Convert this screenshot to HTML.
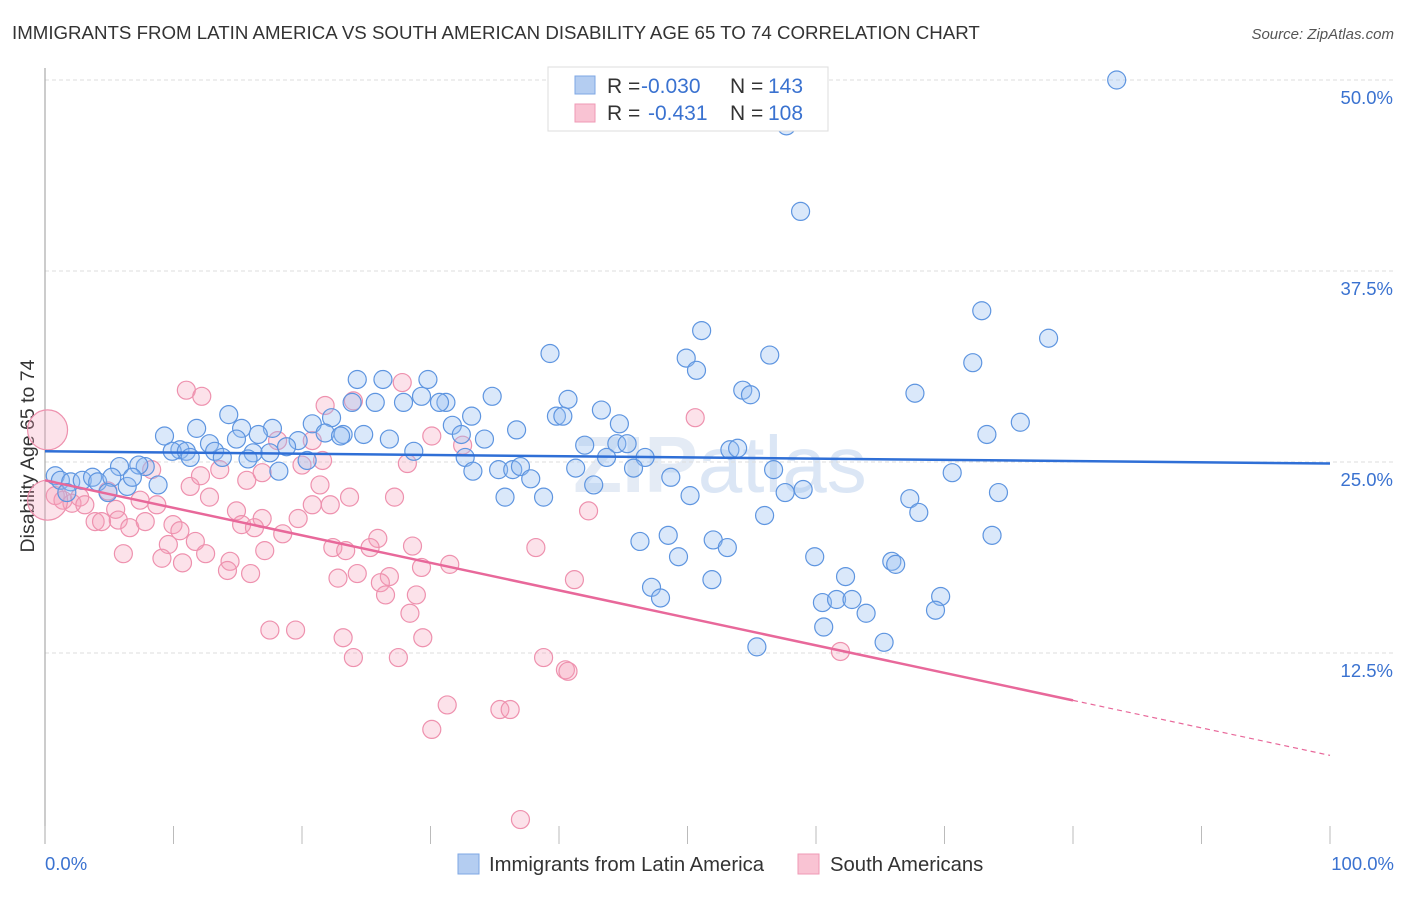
<!DOCTYPE html>
<html><head><meta charset="utf-8"><style>
body{margin:0;background:#fff;font-family:"Liberation Sans",sans-serif;}
svg text{font-family:"Liberation Sans",sans-serif;}
</style></head><body>
<svg id="chart" width="1406" height="892" xmlns="http://www.w3.org/2000/svg">
<text x="12" y="39" font-size="18.7" fill="#333">IMMIGRANTS FROM LATIN AMERICA VS SOUTH AMERICAN DISABILITY AGE 65 TO 74 CORRELATION CHART</text>
<text x="1394" y="39" font-size="15" fill="#555" text-anchor="end" font-style="italic">Source: ZipAtlas.com</text>
<text x="720" y="492" font-size="80" fill="#e4ebf5" text-anchor="middle" font-weight="bold">ZIP<tspan fill="#dbe6f5" font-weight="normal">atlas</tspan></text>
<g id="grid"></g>
<line x1="45" y1="68" x2="45" y2="844" stroke="#aaa" stroke-width="1.2"/>
<text transform="translate(34,456) rotate(-90)" font-size="19.5" fill="#333" text-anchor="middle">Disability Age 65 to 74</text>
<g id="ticks"></g>
<g id="pink"></g>
<g id="blue"></g>
<g id="trends"></g>
<text x="45" y="870" font-size="18.5" fill="#3a72d0">0.0%</text>
<text x="1394" y="870" font-size="18.5" fill="#3a72d0" text-anchor="end">100.0%</text>
<g>
<rect x="548" y="67" width="280" height="64" fill="#fff" stroke="#ddd"/>
<rect x="575" y="76" width="20" height="18" fill="#b4cdf1" stroke="#7ea7e4"/>
<rect x="575" y="104" width="20" height="18" fill="#f9c3d3" stroke="#ef9ab4"/>
<text x="607" y="93" font-size="21" fill="#333">R = <tspan fill="#3a72d0" x="641">-0.030</tspan><tspan x="730">N = </tspan><tspan fill="#3a72d0" x="768">143</tspan></text>
<text x="607" y="120" font-size="21" fill="#333">R = <tspan fill="#3a72d0" x="648">-0.431</tspan><tspan x="730">N = </tspan><tspan fill="#3a72d0" x="768">108</tspan></text>
</g>
<g>
<rect x="458" y="854" width="21" height="20" fill="#b4cdf1" stroke="#7ea7e4"/>
<text x="489" y="871" font-size="20.3" fill="#333">Immigrants from Latin America</text>
<rect x="798" y="854" width="21" height="20" fill="#f9c3d3" stroke="#ef9ab4"/>
<text x="830" y="871" font-size="20.3" fill="#333">South Americans</text>
</g>
</svg>
<script>
const yTicks=[12.5,25,37.5,50];
const yTickLabels=["12.5%","25.0%","37.5%","50.0%"];
const xTicks=[0,10,20,30,40,50,60,70,80,90,100];
const blueX=[83.4,58.4,57.7,58.8,72.9,51.1,78.1,39.3,49.9,56.4,50.7,72.2,24.3,26.3,29.8,54.3,54.9,34.8,67.7,40.7,23.9,25.7,27.9,29.3,31.2,30.7,43.3,14.3,22.3,33.2,39.8,40.3,31.7,44.7,75.9,11.8,17.7,20.8,15.3,9.3,16.6,21.8,23.2,24.8,23.0,26.8,32.4,36.7,14.9,12.8,19.7,18.8,34.2,42.0,44.5,45.3,73.3,10.5,9.9,11.0,13.2,16.2,17.5,11.3,13.8,15.8,28.7,53.3,53.9,32.7,43.7,46.7,20.4,5.8,7.8,7.3,18.2,33.3,35.3,36.4,37.0,41.3,45.8,56.7,70.6,0.8,1.2,2.0,2.9,3.7,4.1,5.2,6.4,6.8,8.8,37.8,48.7,1.7,4.9,35.8,38.8,42.7,50.2,57.6,59.0,67.3,74.2,68.0,56.0,48.5,46.3,52.0,53.1,73.7,49.3,59.9,65.9,66.2,51.9,62.3,47.2,47.9,69.7,60.5,61.6,62.8,63.9,69.3,60.6,65.3,55.4];
const blueY=[50.0,49.4,47.0,41.4,34.9,33.6,33.1,32.1,31.8,32.0,31.0,31.5,30.4,30.4,30.4,29.7,29.4,29.3,29.5,29.1,28.9,28.9,28.9,29.3,28.9,28.9,28.4,28.1,27.9,28.0,28.0,28.0,27.4,27.5,27.6,27.2,27.2,27.5,27.2,26.7,26.8,26.9,26.8,26.8,26.7,26.5,26.8,27.1,26.5,26.2,26.4,26.0,26.5,26.1,26.2,26.2,26.8,25.8,25.7,25.7,25.7,25.6,25.6,25.3,25.3,25.2,25.7,25.8,25.9,25.3,25.3,25.3,25.1,24.7,24.7,24.8,24.4,24.4,24.5,24.5,24.7,24.6,24.6,24.5,24.3,24.1,23.8,23.7,23.8,24.0,23.7,24.0,23.4,24.0,23.5,23.9,24.0,23.0,23.0,22.7,22.7,23.5,22.8,23.0,23.2,22.6,23.0,21.7,21.5,20.2,19.8,19.9,19.4,20.2,18.8,18.8,18.5,18.3,17.3,17.5,16.8,16.1,16.2,15.8,16.0,16.0,15.1,15.3,14.2,13.2,12.9];
const pinkX=[11.0,12.2,27.8,21.8,24.0,50.6,30.1,32.5,18.1,20.8,21.6,20.0,28.2,8.3,13.6,15.7,16.9,11.3,12.1,21.4,4.9,0.8,1.4,2.1,2.7,3.1,5.5,7.4,8.7,12.8,20.8,23.7,27.2,22.2,19.7,42.3,14.9,16.9,15.3,3.9,4.4,5.7,6.6,7.8,9.96,10.5,16.3,18.5,25.9,11.7,9.6,22.4,23.4,25.3,28.6,38.2,17.1,6.1,12.5,9.1,10.7,14.4,29.3,31.5,14.2,16.0,24.3,26.8,22.8,26.1,41.2,26.5,28.9,28.4,17.5,19.5,23.2,29.4,24.0,27.5,38.8,40.5,40.7,61.9,31.3,35.4,36.2,30.1,37.0];
const pinkY=[29.7,29.3,30.2,28.7,29.0,27.9,26.7,26.1,26.4,26.4,25.1,24.8,24.9,24.5,24.5,23.8,24.3,23.4,24.1,23.5,23.1,22.8,22.5,22.3,22.7,22.2,21.9,22.5,22.2,22.7,22.2,22.7,22.7,22.2,21.3,21.8,21.8,21.3,20.9,21.1,21.1,21.2,20.7,21.1,20.9,20.5,20.7,20.3,20.0,19.8,19.6,19.4,19.2,19.4,19.5,19.4,19.2,19.0,19.0,18.7,18.4,18.5,18.1,18.3,17.9,17.7,17.7,17.5,17.4,17.1,17.3,16.3,16.3,15.1,14.0,14.0,13.5,13.5,12.2,12.2,12.2,11.4,11.3,12.6,9.1,8.8,8.8,7.5,1.6];
const bigPinkX=[0.2,0.2];
const bigPinkY=[27.1,22.5];
const blueTrend=[[0,25.7],[100,24.9]];
const pinkTrend=[[0,23.8],[80,9.4]];
const pinkTrendDash=[[80,9.4],[100,5.8]];
const NS="http://www.w3.org/2000/svg";
function sx(v){return 45+v*12.85;}
function sy(v){return 844-v*15.28;}
function mk(tag,attrs,parent){const e=document.createElementNS(NS,tag);for(const k in attrs)e.setAttribute(k,attrs[k]);document.getElementById(parent).appendChild(e);return e;}
yTicks.forEach((t,i)=>{
 const l=mk('line',{x1:45,x2:1393,y1:sy(t),y2:sy(t),stroke:'#ddd','stroke-dasharray':'4,3'},'grid');
 
 
 const tx=mk('text',{x:1393,y:sy(t)+24,'font-size':18.5,fill:'#3a72d0','text-anchor':'end'},'grid');
 tx.textContent=yTickLabels[i];
 
 
});
xTicks.forEach(t=>{
 const l=mk('line',{x1:sx(t),x2:sx(t),y1:826,y2:844,stroke:'#bbb'},'ticks');
 
 
});
pinkX.forEach((v,i)=>{
 const c=mk('circle',{cx:sx(v),cy:sy(pinkY[i]),r:9,fill:'rgba(244,160,185,0.3)',stroke:'#ee91ae','stroke-width':1.2},'pink');
 
 
});
bigPinkX.forEach((v,i)=>{
 const c=mk('circle',{cx:sx(v),cy:sy(bigPinkY[i]),r:20,fill:'rgba(244,160,185,0.3)',stroke:'#ee91ae','stroke-width':1.2},'pink');
 
 
});
blueX.forEach((v,i)=>{
 const c=mk('circle',{cx:sx(v),cy:sy(blueY[i]),r:9,fill:'rgba(150,190,240,0.35)',stroke:'#5e95e0','stroke-width':1.2},'blue');
 
 
});
const bt=mk('line',{x1:sx(blueTrend[0][0]),y1:sy(blueTrend[0][1]),x2:sx(blueTrend[1][0]),y2:sy(blueTrend[1][1]),stroke:'#2f6fd6','stroke-width':2.5},'trends');


const pt=mk('line',{x1:sx(pinkTrend[0][0]),y1:sy(pinkTrend[0][1]),x2:sx(pinkTrend[1][0]),y2:sy(pinkTrend[1][1]),stroke:'#e8689a','stroke-width':2.5},'trends');


const pd=mk('line',{x1:sx(pinkTrendDash[0][0]),y1:sy(pinkTrendDash[0][1]),x2:sx(pinkTrendDash[1][0]),y2:sy(pinkTrendDash[1][1]),stroke:'#e8689a','stroke-width':1.2,'stroke-dasharray':'5,4'},'trends');


</script>
</body></html>
